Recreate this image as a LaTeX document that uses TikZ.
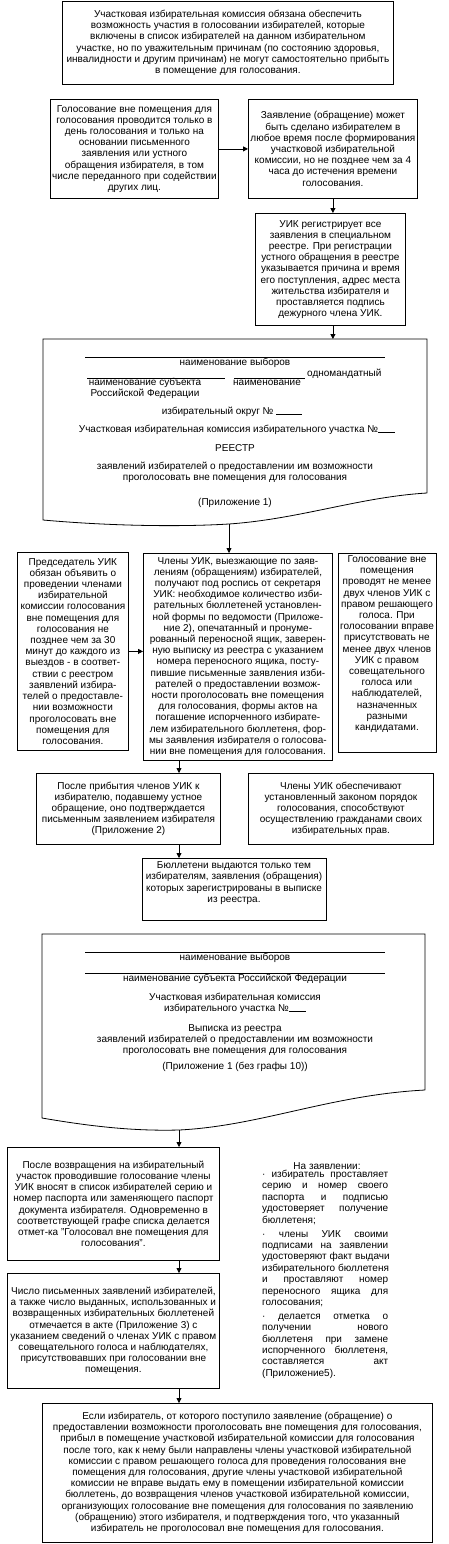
\documentclass[tikz,border=0pt]{standalone}
\usepackage{fontspec}
\setmainfont{Liberation Sans}
\usetikzlibrary{arrows.meta}
\newcommand{\fs}{\fontsize{10}{11.2}\selectfont}
\newcommand{\J}[1]{\makebox[126pt][s]{\spaceskip=0.28em plus 1fil\relax #1}\\}
\newcommand{\ul}[1]{\rule{#1}{0.6pt}}
\tikzset{
  box/.style={draw, line width=0.8pt, inner sep=0pt, align=center, font=\fs, anchor=north west},
  txt/.style={inner sep=0pt, align=center, font=\fs},
  conn/.style={line width=0.8pt, -{Triangle[length=5pt,width=5pt]}},
  plain/.style={line width=0.8pt},
  uline/.style={line width=0.6pt},
}
\begin{document}
\begin{tikzpicture}[x=1pt,y=-1pt]
\useasboundingbox (0,0) rectangle (448,1544);
\fill[white] (0,0) rectangle (448,1544);

% top box
\node[box, minimum width=331pt, minimum height=83pt] (b1) at (62,1)
 {Участковая избирательная комиссия обязана обеспечить\\
  возможность участия в голосовании избирателей, которые\\
  включены в список избирателей на данном избирательном\\
  участке, но по уважительным причинам (по состоянию здоровья,\\
  инвалидности и другим причинам) не могут самостоятельно прибыть\\
  в помещение для голосования.};

\node[box, minimum width=168pt, minimum height=99pt] (b2) at (50,99)
 {Голосование вне помещения для\\
  голосования проводится только в\\
  день голосования и только на\\
  основании письменного\\
  заявления или устного\\
  обращения избирателя, в том\\
  числе переданного при содействии\\
  других лиц.};

\node[box, minimum width=169pt, minimum height=99pt] (b3) at (248,99)
 {Заявление (обращение) может\\
  быть сделано избирателем в\\
  любое время после формирования\\
  участковой избирательной\\
  комиссии, но не позднее чем за 4\\
  часа до истечения времени\\
  голосования.};

\node[box, minimum width=150pt, minimum height=112pt] (b4) at (255,213)
 {УИК регистрирует все\\
  заявления в специальном\\
  реестре. При регистрации\\
  устного обращения в реестре\\
  указывается причина и время\\
  его поступления, адрес места\\
  жительства избирателя и\\
  проставляется подпись\\
  дежурного члена УИК.};

% document 1
\node[inner sep=0pt, minimum width=384pt, minimum height=154pt, anchor=north west] (d1) at (43,339) {};
\draw[plain] (427,493) -- (427,339) -- (43,339) -- (43,520)
  .. controls (110,526) and (180,527) .. (229,524)
  .. controls (300,519) and (360,497) .. (427,493);
\coordinate (d1b) at (229,524);
\draw[uline] (85,357) -- (385,357);
\node[txt] (d1t1) at (235,363) {наименование выборов};
\draw[uline] (87,378) -- (225,378);
\draw[uline] (234,378) -- (305,378);
\node[txt, anchor=west] (d1t2) at (307,374) {одномандатный};
\node[txt] (d1t3) at (145,388) {наименование субъекта\\Российской Федерации};
\node[txt] (d1t4) at (267,383) {наименование};
\node[txt] (d1t5) at (232,412) {избирательный округ № \ul{26pt}};
\node[txt] (d1t6) at (237,430) {Участковая избирательная комиссия избирательного участка №\ul{17pt}};
\node[txt] (d1t7) at (235,448) {РЕЕСТР};
\node[txt] (d1t8) at (235,472.5) {заявлений избирателей о предоставлении им возможности\\проголосовать вне помещения для голосования};
\node[txt] (d1t9) at (235,503) {(Приложение 1)};

% row 3
\node[box, minimum width=111pt, minimum height=198pt] (l3) at (17,552)
 {Председатель УИК\\
  обязан объявить о\\
  проведении членами\\
  избирательной\\
  комиссии голосования\\
  вне помещения для\\
  голосования не\\
  позднее чем за 30\\
  минут до каждого из\\
  выездов - в соответ-\\
  ствии с реестром\\
  заявлений избира-\\
  телей о предоставле-\\
  нии возможности\\
  проголосовать вне\\
  помещения для\\
  голосования.};

\node[box, minimum width=189pt, minimum height=207pt] (m3) at (143,553)
 {Члены УИК, выезжающие по заяв-\\
  лениям (обращениям) избирателей,\\
  получают под роспись от секретаря\\
  УИК: необходимое количество изби-\\
  рательных бюллетеней установлен-\\
  ной формы по ведомости (Приложе-\\
  ние 2), опечатанный и пронуме-\\
  рованный переносной ящик, заверен-\\
  ную выписку из реестра с указанием\\
  номера переносного ящика, посту-\\
  пившие письменные заявления изби-\\
  рателей о предоставлении возмож-\\
  ности проголосовать вне помещения\\
  для голосования, формы актов на\\
  погашение испорченного избирате-\\
  лем избирательного бюллетеня, фор-\\
  мы заявления избирателя о голосова-\\
  нии вне помещения для голосования.};

\node[box, minimum width=98pt, minimum height=199pt] (r3) at (338,553) {};
\node[txt] (r3t) at (387,644)
 {Голосование вне\\
  помещения\\
  проводят не менее\\
  двух членов УИК с\\
  правом решающего\\
  голоса. При\\
  голосовании вправе\\
  присутствовать не\\
  менее двух членов\\
  УИК с правом\\
  совещательного\\
  голоса или\\
  наблюдателей,\\
  назначенных\\
  разными\\
  кандидатами.};

% row 4
\node[box, minimum width=184pt, minimum height=71pt] (l4) at (36,773)
 {После прибытия членов УИК к\\
  избирателю, подавшему устное\\
  обращение, оно подтверждается\\
  письменным заявлением избирателя\\
  (Приложение 2)};

\node[box, minimum width=185pt, minimum height=71pt] (r4) at (248,773)
 {Члены УИК обеспечивают\\
  установленный законом порядок\\
  голосования, способствуют\\
  осуществлению гражданами своих\\
  избирательных прав.};

\node[box, minimum width=184pt, minimum height=62pt] (bul) at (142,858) {};
\node[txt] (bult) at (234,883)
 {Бюллетени выдаются только тем\\
  избирателям, заявления (обращения)\\
  которых зарегистрированы в выписке\\
  из реестра.};

% document 2
\node[inner sep=0pt, minimum width=383pt, minimum height=156pt, anchor=north west] (d2) at (42,934) {};
\draw[plain] (425,1090) -- (425,934) -- (42,934) -- (42,1118)
  .. controls (100,1128) and (140,1131) .. (179,1130)
  .. controls (260,1126) and (330,1095) .. (425,1090);
\coordinate (d2b) at (179,1130);
\draw[uline] (85,952) -- (385,952);
\node[txt] (d2t1) at (235,958) {наименование выборов};
\draw[uline] (85,973) -- (385,973);
\node[txt] (d2t2) at (235,979) {наименование субъекта Российской Федерации};
\node[txt] (d2t3) at (235,1003.5) {Участковая избирательная комиссия\\избирательного участка №\ul{17pt}};
\node[txt] (d2t4) at (235,1040) {Выписка из реестра\\заявлений избирателей о предоставлении им возможности\\проголосовать вне помещения для голосования};
\node[txt] (d2t5) at (235,1067) {(Приложение 1 (без графы 10))};

% bottom boxes
\node[box, minimum width=212pt, minimum height=113pt] (a1) at (7,1147)
 {После возвращения на избирательный\\
  участок проводившие голосование члены\\
  УИК вносят в список избирателей серию и\\
  номер паспорта или заменяющего паспорт\\
  документа избирателя. Одновременно в\\
  соответствующей графе списка делается\\
  отмет-ка "Голосовал вне помещения для\\
  голосования".};

\node[box, minimum width=212pt, minimum height=115pt] (a2) at (7,1273)
 {Число письменных заявлений избирателей,\\
  а также число выданных, использованных и\\
  возвращенных избирательных бюллетеней\\
  отмечается в акте (Приложение 3) с\\
  указанием сведений о членах УИК с правом\\
  совещательного голоса и наблюдателях,\\
  присутствовавших при голосовании вне\\
  помещения.};

\node[txt] (zt) at (327,1166) {На заявлении:};
\node[inner sep=0pt, text width=126pt, align=left, font=\fontsize{10}{11.4}\selectfont, anchor=north west] (zp) at (262,1170)
 {\J{· избиратель проставляет}
  \J{серию и номер своего}
  \J{паспорта и подписью}
  \J{удостоверяет получение}
  бюллетеня;\\[2.5pt]
  \J{· члены УИК своими}
  \J{подписами на заявлении}
  \J{удостоверяют факт выдачи}
  \J{избирательного бюллетеня}
  \J{и проставляют номер}
  \J{переносного ящика для}
  голосования;\\[2.5pt]
  \J{· делается отметка о}
  \J{получении нового}
  \J{бюллетеня при замене}
  \J{испорченного бюллетеня,}
  \J{составляется акт}
  (Приложение5).};

\node[box, minimum width=390pt, minimum height=139pt] (fin) at (42,1403)
 {Если избиратель, от которого поступило заявление (обращение) о\\
  предоставлении возможности проголосовать вне помещения для голосования,\\
  прибыл в помещение участковой избирательной комиссии для голосования\\
  после того, как к нему были направлены члены участковой избирательной\\
  комиссии с правом решающего голоса для проведения голосования вне\\
  помещения для голосования, другие члены участковой избирательной\\
  комиссии не вправе выдать ему в помещении избирательной комиссии\\
  бюллетень, до возвращения членов участковой избирательной комиссии,\\
  организующих голосование вне помещения для голосования по заявлению\\
  (обращению) этого избирателя, и подтверждения того, что указанный\\
  избиратель не проголосовал вне помещения для голосования.};

% connectors
\coordinate (ax) at (179,0);
\draw[conn] (b2.east) -- (b2.east -| b3.west);
\draw[conn] (b3.south) -- (b3.south |- b4.north);
\draw[conn] (b3.south |- b4.south) -- (b3.south |- d1.north);
\draw[conn] (d1b) -- (d1b |- m3.north);
\draw[conn] (l3.east) -- (l3.east -| m3.west);
\draw[conn] (ax |- m3.south) -- (ax |- l4.north);
\draw[conn] (ax |- l4.south) -- (ax |- bul.north);
\draw[conn] (d2b) -- (d2b |- a1.north);
\draw[conn] (ax |- a1.south) -- (ax |- a2.north);
\draw[conn] (ax |- a2.south) -- (ax |- fin.north);
\end{tikzpicture}
\end{document}
